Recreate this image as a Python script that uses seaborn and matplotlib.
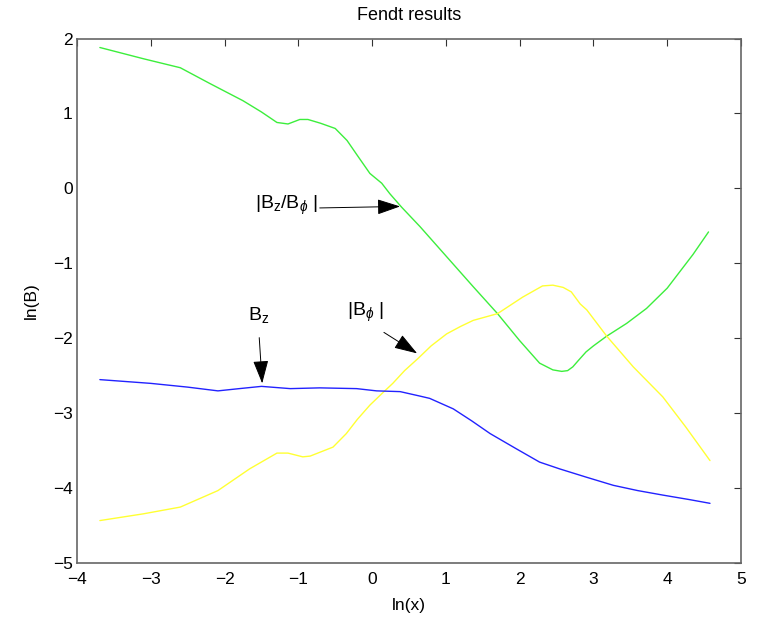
import numpy as np
import pandas as pd
import matplotlib
matplotlib.use("Agg")
import matplotlib.pyplot as plt
from matplotlib.patches import ArrowStyle
import seaborn as sns

# ln(x) sample positions and ln(B) values for each field quantity
ratio_x = [-3.69, -3.1, -2.6, -2.2, -1.75, -1.5, -1.29, -1.14, -0.98, -0.87, -0.7, -0.5, -0.34,
           -0.2, -0.03, 0.13, 0.24, 0.4, 0.65, 1.01, 1.37, 1.7, 2.0, 2.27, 2.45, 2.57, 2.65,
           2.72, 2.8, 2.9, 3.0, 3.18, 3.45, 3.72, 4.0, 4.35, 4.56]
ratio_y = [1.88, 1.73, 1.61, 1.4, 1.17, 1.02, 0.88, 0.86, 0.92, 0.92, 0.87, 0.8, 0.64,
           0.44, 0.2, 0.07, -0.07, -0.25, -0.51, -0.91, -1.31, -1.67, -2.03, -2.33, -2.42, -2.44, -2.43,
           -2.38, -2.29, -2.18, -2.1, -1.97, -1.8, -1.6, -1.33, -0.88, -0.58]

bphi_x = [-3.69, -3.1, -2.6, -2.09, -1.66, -1.29, -1.14, -0.94, -0.84, -0.53, -0.35, -0.2,
          -0.03, 0.15, 0.28, 0.44, 0.62, 0.8, 1.01, 1.2, 1.37, 1.7, 2.04, 2.31, 2.45, 2.59,
          2.7, 2.82, 2.91, 3.18, 3.54, 3.94, 4.25, 4.58]
bphi_y = [-4.43, -4.34, -4.25, -4.03, -3.74, -3.53, -3.53, -3.58, -3.57, -3.45, -3.27, -3.08,
          -2.89, -2.72, -2.6, -2.43, -2.27, -2.1, -1.94, -1.84, -1.76, -1.67, -1.45, -1.3, -1.29, -1.32,
          -1.38, -1.54, -1.62, -1.97, -2.38, -2.78, -3.18, -3.63]

bz_x = [-3.69, -3.0, -2.5, -2.09, -1.8, -1.5, -1.11, -0.71, -0.21, 0.06, 0.38, 0.65, 0.78,
        1.1, 1.35, 1.6, 1.95, 2.27, 2.54, 2.9, 3.27, 3.6, 3.94, 4.3, 4.58]
bz_y = [-2.55, -2.6, -2.65, -2.7, -2.67, -2.64, -2.67, -2.66, -2.67, -2.7, -2.71, -2.77, -2.8,
        -2.94, -3.1, -3.27, -3.47, -3.65, -3.74, -3.85, -3.96, -4.03, -4.09, -4.15, -4.2]

series_names = ["|Bz/Bphi|", "|Bphi|", "Bz"]
series_colors = ["#3cee3c", "#ffff33", "#2222ff"]

df = pd.concat([
    pd.DataFrame({"lnx": ratio_x, "lnB": ratio_y, "series": series_names[0]}),
    pd.DataFrame({"lnx": bphi_x, "lnB": bphi_y, "series": series_names[1]}),
    pd.DataFrame({"lnx": bz_x, "lnB": bz_y, "series": series_names[2]}),
], ignore_index=True)

sns.set_style("white")
plt.rcParams["font.family"] = ["Liberation Sans", "DejaVu Sans"]
plt.rcParams["mathtext.fontset"] = "custom"
plt.rcParams["mathtext.rm"] = "Liberation Sans"
plt.rcParams["mathtext.it"] = "Liberation Sans:italic"
plt.rcParams["text.color"] = "black"
plt.rcParams["axes.labelcolor"] = "black"

fig = plt.figure(figsize=(7.61, 6.18), dpi=100)
ax = fig.add_axes([0.1012, 0.0885, 0.8725, 0.8492])

sns.lineplot(data=df, x="lnx", y="lnB", hue="series", palette=dict(zip(series_names, series_colors)),
             sort=False, estimator=None, linewidth=1.0, legend=False, ax=ax)

ax.set_xlim(-4, 5)
ax.set_ylim(-5, 2)
ax.set_xticks(range(-4, 6))
ax.set_yticks(range(-5, 3))
ax.set_xticklabels([str(v).replace("-", "\u2212") for v in range(-4, 6)])
ax.set_yticklabels([str(v).replace("-", "\u2212") for v in range(-5, 3)])
ax.tick_params(direction="in", top=True, right=True, length=5, width=0.8,
               color="#333333", labelcolor="black", labelsize=12.5)
ax.tick_params(axis="x", pad=6)
ax.tick_params(axis="y", pad=3)
for s in ax.spines.values():
    s.set_color("#666666")
    s.set_linewidth(1.2)

ax.set_xlabel("ln(x)", fontsize=12.5, labelpad=8)
ax.set_ylabel("ln(B)", fontsize=12.5, labelpad=10)
ax.set_title("Fendt results", fontsize=13, pad=13)

head = ArrowStyle("-|>", head_length=0.9, head_width=0.3)
arrow = dict(arrowstyle=head, color="black", lw=0.7, mutation_scale=16, shrinkA=0, shrinkB=0)

ax.text(-1.59, -0.22, r"|B$_{\mathrm{z}}$/B$_{\phi}$ |", fontsize=14, va="center", ha="left")
ax.annotate("", xy=(0.38, -0.24), xytext=(-0.71, -0.26), arrowprops=arrow)

ax.text(-1.68, -1.69, r"B$_{\mathrm{z}}$", fontsize=14, va="center", ha="left")
ax.annotate("", xy=(-1.49, -2.6), xytext=(-1.53, -1.99), arrowprops=arrow)

ax.text(-0.34, -1.65, r"|B$_{\phi}$ |", fontsize=14, va="center", ha="left")
ax.annotate("", xy=(0.61, -2.2), xytext=(0.16, -1.92), arrowprops=arrow)

fig.savefig("out.png", dpi=100)
